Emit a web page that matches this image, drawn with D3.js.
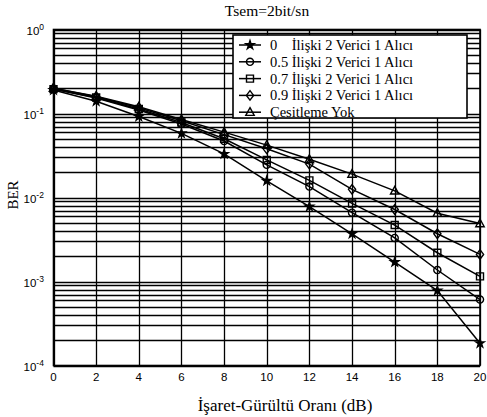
<!DOCTYPE html>
<html><head><meta charset="utf-8">
<script src="https://cdn.jsdelivr.net/npm/d3@7"></script>
<style>body{margin:0;background:#fff}svg{display:block}</style>
</head><body><svg id="c" width="487" height="417"></svg>
<script>
const snr = [0,2,4,6,8,10,12,14,16,18,20];
const berRho0  = [0.19,0.14,0.092,0.058,0.033,0.0158,0.0078,0.0037,0.0017,0.00078,0.000184];
const berRho05 = [0.195,0.153,0.11,0.075,0.047,0.0245,0.0135,0.0066,0.0033,0.00137,0.00061];
const berRho07 = [0.195,0.155,0.113,0.078,0.05,0.028,0.016,0.0085,0.0047,0.0022,0.00115];
const berRho09 = [0.2,0.158,0.117,0.082,0.056,0.038,0.025,0.0125,0.0072,0.0037,0.0021];
const berNoDiv = [0.2,0.16,0.12,0.085,0.06,0.042,0.0285,0.019,0.012,0.0065,0.0049];
const seriesNames = ["0    İlişki 2 Verici 1 Alıcı","0.5 İlişki 2 Verici 1 Alıcı","0.7 İlişki 2 Verici 1 Alıcı","0.9 İlişki 2 Verici 1 Alıcı","Çesitleme Yok"];
const markers = ["star","circle","square","diamond","triangle"];
const xTicks = [0,2,4,6,8,10,12,14,16,18,20];
const yDecades = [0,-1,-2,-3,-4];
const titleText = "Tsem=2bit/sn";
const xLabel = "İşaret-Gürültü Oranı (dB)";
const yLabel = "BER";

const allSeries = [berRho0,berRho05,berRho07,berRho09,berNoDiv];
const svg = d3.select("#c");
const L=53.5,R=480,T=29.5,B=365.5;
const x = d3.scaleLinear().domain([0,20]).range([L,R]);
const y = d3.scaleLog().domain([1e-4,1]).range([B,T]);

const grid = svg.append("g").attr("stroke","#000").attr("stroke-width",1.3);
xTicks.forEach(t=>{const p=Math.round(x(t))+0.5; grid.append("line").attr("x1",p).attr("x2",p).attr("y1",T).attr("y2",B);});
y.ticks().forEach(t=>{const p=Math.round(y(t))+0.5; grid.append("line").attr("x1",L).attr("x2",R).attr("y1",p).attr("y2",p);});

svg.append("rect").attr("x",L).attr("y",T).attr("width",R-L).attr("height",B-T)
  .attr("fill","none").attr("stroke","#000").attr("stroke-width",1.6);

svg.append("g").selectAll("text").data(xTicks).join("text")
  .attr("x",d=>x(d)).attr("y",B+15).attr("text-anchor","middle")
  .attr("font-family","Liberation Sans, Arial, sans-serif").attr("font-size",11.5)
  .text(d=>d);
const yt = svg.append("g").selectAll("text").data(yDecades).join("text")
  .attr("y",d=>y(Math.pow(10,d))+5)
  .attr("font-family","Liberation Sans, Arial, sans-serif").attr("font-size",11.5);
yt.append("tspan").text("10");
yt.append("tspan").attr("dy",-5).attr("font-size",8.5).text(d=>d);
yt.attr("text-anchor","start").attr("x",d=>L-30 + (d===0?3:0));

svg.append("text").attr("x",267).attr("y",16).attr("text-anchor","middle")
  .attr("font-family","Liberation Serif, Times New Roman, serif").attr("font-size",15.5).text(titleText);
svg.append("text").attr("x",285).attr("y",411).attr("text-anchor","middle")
  .attr("font-family","Liberation Serif, Times New Roman, serif").attr("font-size",17).text(xLabel);
svg.append("text").attr("transform","translate(18,195) rotate(-90)").attr("text-anchor","middle")
  .attr("font-family","Liberation Serif, Times New Roman, serif").attr("font-size",15).text(yLabel);

function markerPath(type){
  switch(type){
    case "star": return d3.symbol(d3.symbolStar,22)();
    case "circle": return d3.symbol(d3.symbolCircle,40)();
    case "square": return "M-3.5,-3.5H3.5V3.5H-3.5Z";
    case "diamond": return "M0,-4.8L3.6,0L0,4.8L-3.6,0Z";
    case "triangle": return "M0,-4.5L4.2,3.2H-4.2Z";
  }
}
const line = d3.line().x((d,i)=>x(snr[i])).y(d=>y(d));
const plot = svg.append("g");
allSeries.forEach((s,k)=>{
  plot.append("path").attr("d",line(s)).attr("fill","none").attr("stroke","#000").attr("stroke-width",1.5);
});
allSeries.forEach((s,k)=>{
  plot.selectAll(null).data(s).join("path")
    .attr("transform",(d,i)=>`translate(${x(snr[i])},${y(d)})`)
    .attr("d",markerPath(markers[k]))
    .attr("fill",markers[k]==="star"?"#000":"none")
    .attr("stroke","#000").attr("stroke-width",1.4);
});

const lg = svg.append("g");
lg.append("rect").attr("x",233).attr("y",35).attr("width",234).attr("height",83)
  .attr("fill","#fff").attr("stroke","#000").attr("stroke-width",1.6);
seriesNames.forEach((n,k)=>{
  const yy = 45 + k*16.8;
  lg.append("line").attr("x1",239).attr("x2",261).attr("y1",yy).attr("y2",yy).attr("stroke","#000").attr("stroke-width",1.5);
  lg.append("path").attr("transform",`translate(250,${yy})`).attr("d",markerPath(markers[k]))
    .attr("fill",markers[k]==="star"?"#000":"none").attr("stroke","#000").attr("stroke-width",1.4);
  lg.append("text").attr("x",270).attr("y",yy+5).attr("xml:space","preserve").style("white-space","pre")
    .attr("font-family","Liberation Serif, Times New Roman, serif").attr("font-size",14.5).text(n);
});
</script></body></html>
